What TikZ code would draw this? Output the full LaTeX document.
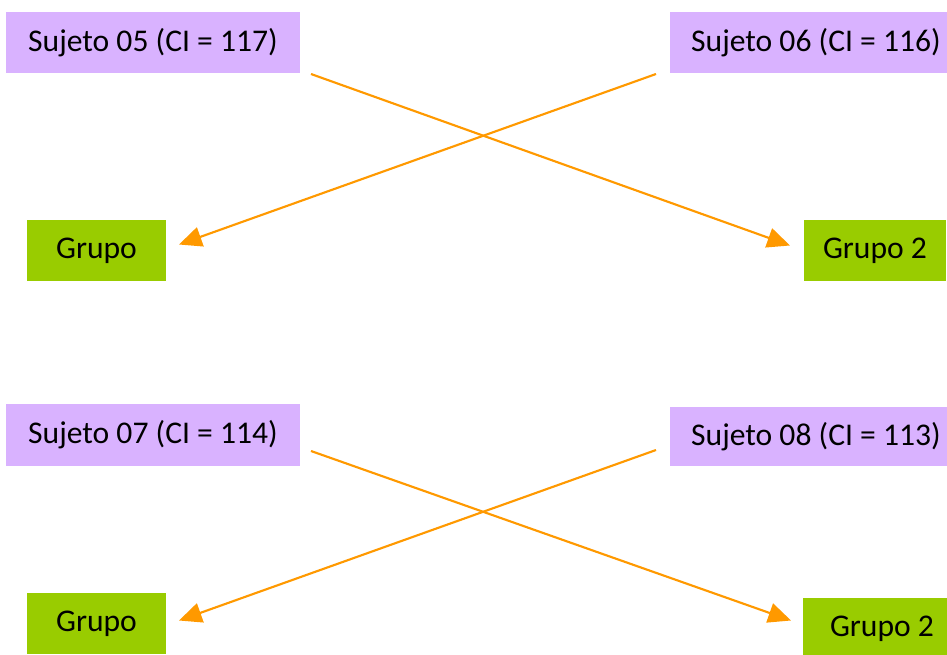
\documentclass[tikz,border=0pt]{standalone}
\usepackage{fontspec}
\setmainfont{Carlito}
\usepackage{xcolor}
\usetikzlibrary{arrows.meta,calc}
\definecolor{lila}{RGB}{217,178,255}
\definecolor{verde}{RGB}{153,204,0}
\definecolor{naranja}{RGB}{255,153,0}

\begin{document}
\begin{tikzpicture}[x=0.75pt,y=-0.75pt,>=Latex,
    caja/.style={anchor=north west,inner sep=0pt,outer sep=0pt,minimum height=45.75pt,
        font=\fontsize{23.7}{28}\selectfont},
    sujeto/.style={caja,fill=lila,minimum width=220.5pt},
    grupo/.style={caja,fill=verde,minimum width=104.25pt},
    flecha/.style={naranja,line width=1.6pt,-{Triangle[length=17pt,width=15pt]}}]
\useasboundingbox (0,0) rectangle (947,654);
% primera pareja
\node[sujeto] (s05) at (6,12) {Sujeto 05 (CI = 117)};
\node[sujeto,minimum width=219pt] (s06) at (670,12) {Sujeto 06 (CI = 116)};
\node[grupo] (g1) at (27,220) {Grupo};
\node[grupo,minimum width=106.5pt] (g2) at (804,220) {Grupo 2};
\draw[flecha] ($(s05.south east)+(11,1)$) -- ($(g2.west)+(-14,-5)$);
\draw[flecha] ($(s06.south west)+(-14,1)$) -- ($(g1.east)+(13,-6)$);
% segunda pareja
\node[sujeto,minimum height=46.5pt] (s07) at (6,404) {Sujeto 07 (CI = 114)};
\node[sujeto,minimum width=219pt,minimum height=44.25pt] (s08) at (670,407) {Sujeto 08 (CI = 113)};
\node[grupo] (g3) at (27,593) {Grupo};
\node[grupo,minimum width=118.5pt] (g4) at (803,598) {Grupo 2};
\draw[flecha] ($(s07.south east)+(11,-15)$) -- ($(g4.west)+(-12,-8)$);
\draw[flecha] ($(s08.south west)+(-14,-16)$) -- ($(g3.east)+(13,-3)$);
\end{tikzpicture}
\end{document}
